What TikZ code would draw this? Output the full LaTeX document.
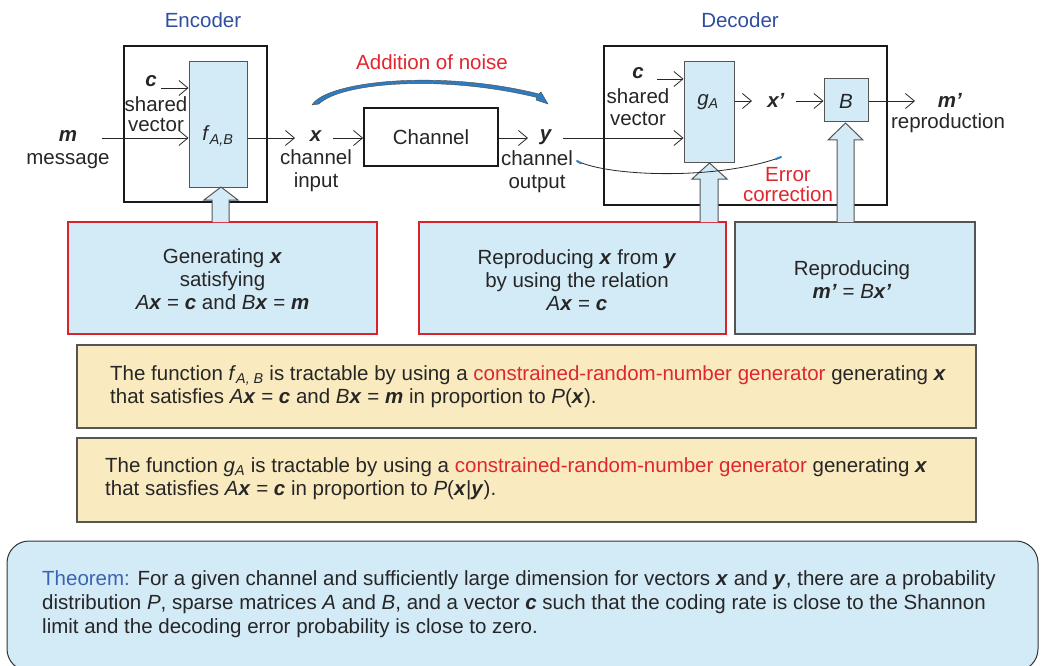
\documentclass[tikz,border=0pt]{standalone}
\usepackage{fontspec}
\setmainfont{Liberation Sans}
\usetikzlibrary{arrows.meta}
\definecolor{hdblue}{HTML}{2E4E9E}
\definecolor{thblue}{HTML}{3A64AE}
\definecolor{redtxt}{HTML}{E0262F}
\definecolor{redbox}{HTML}{D8222C}
\definecolor{lblue}{HTML}{D3EAF7}
\definecolor{lyellow}{HTML}{F9EABF}
\definecolor{bgray}{HTML}{555555}
\definecolor{swoosh}{HTML}{2F7BBF}
\newcommand{\bv}[1]{\textbf{\textit{#1}}}
\newcommand{\iv}[1]{\textit{#1}}
\tikzset{
  txt/.style={font=\fontsize{20.5}{23}\selectfont, inner sep=0pt, align=center, text=black!85},
  arr/.style={-{Straight Barb[length=9pt,width=15pt]}, line width=0.8pt, draw=black!85},
  blk/.style={draw=black!90, line width=2.2pt},
  fbox/.style={draw=bgray, line width=1pt, fill=lblue},
  bigarrow/.style={draw=bgray, line width=1pt, fill=lblue},
  lowbox/.style={fill=lblue, line width=1.3pt},
  ybox/.style={draw=bgray, fill=lyellow, line width=1.3pt},
}
\begin{document}
\begin{tikzpicture}[x=1pt,y=-1pt]
\useasboundingbox (0,0) rectangle (1041,666);
% headings
\node[txt, text=hdblue] (enc) at (203,20) {Encoder};
\node[txt, text=hdblue] (dec) at (740,20) {Decoder};
% encoder
\draw[blk] (124,46) rectangle (267,202);
\node[fbox, minimum width=58pt, minimum height=125pt, inner sep=0pt] (f) at (218,124.5) {};
\node[txt] (flab) at (218,136) {\iv{f}\textsubscript{\iv{A,B}}};
\node[txt] (cE) at (151,81) {\bv{c}};
\node[txt] (shE) at (156,114) {shared\\[-3pt]vector};
\node[txt] (m) at (68,136) {\bv{m}};
\node[txt] (msg) at (68,161) {message};
\draw[arr] (161,88) -- (f.west |- 0,88);
\draw[arr] (102,138) -- (f.west |- 0,138);
% channel input
\node[txt] (x) at (316,136) {\bv{x}};
\node[txt] (cin) at (316,171) {channel\\input};
\draw[arr] (f.east |- 0,138) -- (295,138);
\node[blk, line width=1.8pt, minimum width=134pt, minimum height=58pt, inner sep=0pt] (ch) at (431,137) {};
\node[txt] (chl) at (431,137) {Channel};
\draw[arr] (333,138) -- (ch.west |- 0,138);
\node[txt] (y) at (546,137) {\bv{y}};
\node[txt] (cout) at (537,172) {channel\\output};
\draw[arr] (ch.east |- 0,138) -- (528,138);
% noise
\node[txt, text=redtxt] (noise) at (432,62) {Addition of noise};
\fill[swoosh, draw=black!70, line width=0.4pt] (312,105) .. controls (326,81) and (440,69) .. (539,94) -- (541,92) -- (548,104) -- (536,100) -- (537,97.5) .. controls (440,74) and (340,83) .. (319,104) -- cycle;
% decoder
\draw[blk] (604,46) rectangle (887,205);
\node[fbox, minimum width=50pt, minimum height=100pt, inner sep=0pt] (g) at (709,112) {};
\node[txt] (glab) at (708,102) {\iv{g}\textsubscript{\iv{A}}};
\node[txt] (cD) at (638,73) {\bv{c}};
\node[txt] (shD) at (638,107) {shared\\[-1pt]vector};
\draw[arr] (657,79) -- (g.west |- 0,79);
\draw[arr] (563,138) -- (g.west |- 0,138);
\node[txt] (xp) at (776,100) {\bv{x’}};
\draw[arr] (g.east |- 0,101) -- (752,101);
\node[fbox, minimum width=44pt, minimum height=43pt, inner sep=0pt] (B) at (846,100.5) {};
\node[txt] (Blab) at (846,101) {\iv{B}};
\draw[arr] (796,101) -- (B.west |- 0,101);
\node[txt] (mp) at (950,100) {\bv{m’}};
\node[txt] (rep) at (948,123) {reproduction};
\draw[arr] (B.east |- 0,101) -- (915,101);
\node[txt, text=redtxt, font=\fontsize{20.5}{20}\selectfont] (err) at (788,185) {Error\\correction};
% lower boxes
\node[lowbox, draw=redbox, minimum width=309pt, minimum height=112pt, inner sep=0pt] (b1) at (222.5,278) {};
\node[txt] (b1t) at (222.5,279) {Generating \bv{x}\\satisfying\\\iv{A}\bv{x} = \bv{c} and \iv{B}\bv{x} = \bv{m}};
\node[lowbox, draw=redbox, minimum width=307pt, minimum height=112pt, inner sep=0pt] (b2) at (572.5,278) {};
\node[txt] (b2t) at (577,280) {Reproducing \bv{x} from \bv{y}\\by using the relation\\\iv{A}\bv{x} = \bv{c}};
\node[lowbox, draw=bgray, minimum width=240pt, minimum height=112pt, inner sep=0pt] (b3) at (855,278) {};
\node[txt] (b3t) at (852,280) {Reproducing\\\bv{m’} = \iv{B}\bv{x’}};
% big hollow arrows
\draw[bigarrow] (212,222) -- (212,200) -- (204,200) -- (221,187) -- (238,200) -- (229,200) -- (229,222);
\draw[bigarrow] (700,222) -- (700,179) -- (692,179) -- (709.5,163) -- (727,179) -- (718,179) -- (718,222);
\draw[bigarrow] (837,222) -- (837,140) -- (828,140) -- (845.5,123) -- (863,140) -- (854,140) -- (854,222);
% error correction curve
\draw[black!85, line width=0.8pt] (577,161) .. controls (610,177) and (720,180) .. (781,157);
\draw[swoosh, line width=2pt, line cap=round] (577,161) -- (581,163.3);
\draw[swoosh, line width=2pt, line cap=round] (776,159) -- (781,157);
% yellow boxes
\node[ybox, minimum width=899pt, minimum height=83pt, inner sep=0pt] (y1) at (526.5,386.5) {};
\node[txt, align=left, anchor=west] (y1t) at (110,387) {The function \iv{f}\textsubscript{\iv{A, B}} is tractable by using a \textcolor{redtxt}{constrained-random-number generator} generating \bv{x}\\that satisfies \iv{A}\bv{x} = \bv{c} and \iv{B}\bv{x} = \bv{m} in proportion to \iv{P}(\bv{x}).};
\node[ybox, minimum width=899pt, minimum height=84pt, inner sep=0pt] (y2) at (526.5,480) {};
\node[txt, align=left, anchor=west] (y2t) at (105,479) {The function \iv{g}\textsubscript{\iv{A}} is tractable by using a \textcolor{redtxt}{constrained-random-number generator} generating \bv{x}\\that satisfies \iv{A}\bv{x} = \bv{c} in proportion to \iv{P}(\bv{x}|\bv{y}).};
% theorem
\node[draw=black!80, fill=lblue, line width=1pt, rounded corners=22pt, minimum width=1031pt, minimum height=130pt, inner sep=0pt] (th) at (522.5,606) {};
\node[txt, align=left, anchor=west, font=\fontsize{20.5}{24}\selectfont] (tht) at (42,604) {\textcolor{thblue}{Theorem:} For a given channel and sufficiently large dimension for vectors \bv{x} and \bv{y}, there are a probability\\distribution \iv{P}, sparse matrices \iv{A} and \iv{B}, and a vector \bv{c} such that the coding rate is close to the Shannon\\limit and the decoding error probability is close to zero.};
\end{tikzpicture}
\end{document}
